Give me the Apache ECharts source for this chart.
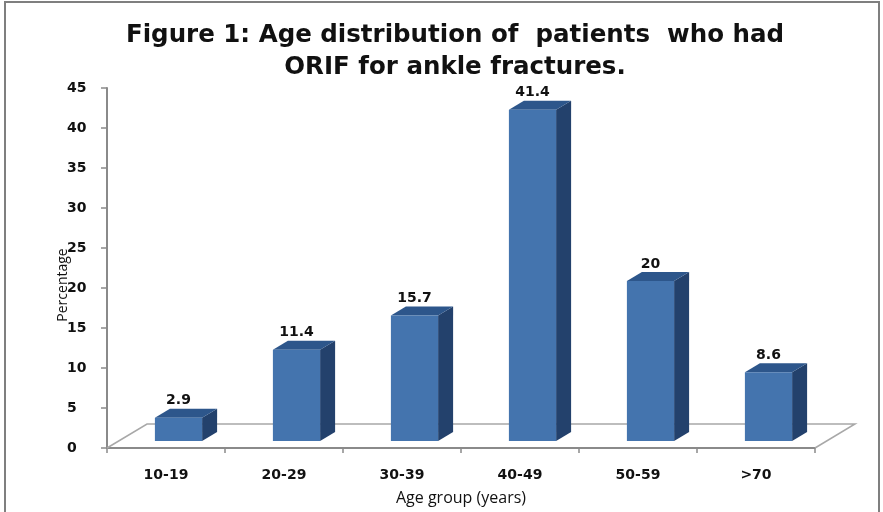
<!DOCTYPE html>
<html>
<head>
<meta charset="utf-8">
<title>Age distribution of patients who had ORIF for ankle fractures</title>
<script src="https://cdn.jsdelivr.net/npm/echarts@6/dist/echarts.min.js"></script>
<style>
  html, body { margin: 0; padding: 0; background: #fff; }
  #chart { width: 883px; height: 512px; }
</style>
</head>
<body>
<div id="chart"></div>
<script>
// data
const categories = ['10-19', '20-29', '30-39', '40-49', '50-59', '>70'];
const percentages = [2.9, 11.4, 15.7, 41.4, 20, 8.6];
const yMin = 0;
const yMax = 45;
const yStep = 5;

const chart = echarts.init(document.getElementById('chart'), null, { renderer: 'canvas' });

// colours of the 3d box faces
const frontColor = '#4474ae';
const sideColor = '#23416c';
const topColor = '#2d568b';
const axisColor = '#8a8a8a';

// depth of the fake 3d
const floorDx = 40, floorDy = 24;
const barShiftX = 12.5, barShiftY = 7;
const barDx = 15, barDy = 9;

function renderFloor(params, api) {
    const band = api.size([1, 0])[0];
    const p0 = api.coord([0, 0]);
    const left = p0[0] - band / 2;
    const right = left + band * categories.length;
    const y = p0[1];
    return {
        type: 'polyline',
        shape: {
            points: [[left, y], [left + floorDx, y - floorDy], [right + floorDx, y - floorDy], [right, y]]
        },
        style: { stroke: '#a8a8a8', lineWidth: 1.5, fill: null }
    };
}

function renderBar(params, api) {
    const idx = api.value(0);
    const v = api.value(1);
    const band = api.size([1, 0])[0];
    const base = api.coord([idx, 0]);
    const top = api.coord([idx, v]);
    const w = band * 0.4;
    const x0 = base[0] - w / 2 + barShiftX;
    const x1 = x0 + w;
    const yb = base[1] - barShiftY;
    const yt = top[1] - barShiftY;
    return {
        type: 'group',
        children: [
            {
                type: 'polygon',
                shape: { points: [[x1, yt], [x1 + barDx, yt - barDy], [x1 + barDx, yb - barDy], [x1, yb]] },
                style: { fill: sideColor }
            },
            {
                type: 'polygon',
                shape: { points: [[x0, yt], [x0 + barDx, yt - barDy], [x1 + barDx, yt - barDy], [x1, yt]] },
                style: { fill: topColor }
            },
            {
                type: 'rect',
                shape: { x: x0, y: yt, width: w, height: yb - yt },
                style: { fill: frontColor }
            },
            {
                type: 'text',
                style: {
                    text: String(v),
                    x: (x0 + x1) / 2,
                    y: yt - barDy - 1,
                    align: 'center',
                    verticalAlign: 'bottom',
                    fontFamily: 'DejaVu Sans',
                    fontWeight: 'bold',
                    fontSize: 14,
                    fill: '#111'
                }
            }
        ]
    };
}

const option = {
    backgroundColor: '#fff',
    animation: false,
    title: {
        text: 'Figure 1: Age distribution of  patients  who had\nORIF for ankle fractures.',
        left: 450,
        textAlign: 'center',
        top: 15,
        textStyle: {
            fontFamily: 'DejaVu Sans',
            fontWeight: 'bold',
            fontSize: 24.5,
            lineHeight: 32,
            color: '#111'
        }
    },
    grid: { left: 107, right: 68, top: 88, bottom: 64 },
    xAxis: {
        type: 'category',
        data: categories,
        name: 'Age group (years)',
        nameLocation: 'middle',
        nameGap: 42,
        nameTextStyle: { fontFamily: 'Open Sans', fontSize: 16, color: '#111' },
        axisLine: { lineStyle: { color: axisColor, width: 2 } },
        axisTick: { show: true, length: 5, lineStyle: { color: axisColor, width: 1.5 } },
        axisLabel: {
            margin: 20,
            fontFamily: 'DejaVu Sans',
            fontWeight: 'bold',
            fontSize: 14,
            color: '#111'
        },
        splitLine: { show: false }
    },
    yAxis: {
        type: 'value',
        min: yMin,
        max: yMax,
        interval: yStep,
        name: 'Percentage',
        nameLocation: 'middle',
        nameRotate: 90,
        nameGap: 37,
        nameMoveOverlap: false,
        nameTextStyle: { fontFamily: 'Open Sans', fontSize: 14, color: '#111', padding: [0, 34, 0, 0] },
        axisLine: { show: true, lineStyle: { color: axisColor, width: 2 } },
        axisTick: { show: true, length: 6, lineStyle: { color: axisColor, width: 1.5 } },
        axisLabel: {
            align: 'left',
            margin: 40,
            fontFamily: 'DejaVu Sans',
            fontWeight: 'bold',
            fontSize: 14,
            color: '#111'
        },
        splitLine: { show: false }
    },
    graphic: [
        {
            type: 'polyline',
            shape: { points: [[5, 520], [5, 2], [879, 2], [879, 520]] },
            style: { stroke: '#7f7f7f', lineWidth: 2, fill: null },
            silent: true
        }
    ],
    series: [
        {
            type: 'custom',
            z: 1,
            renderItem: renderFloor,
            data: [[0, 0]],
            encode: { x: 0, y: 1 }
        },
        {
            type: 'custom',
            z: 2,
            renderItem: renderBar,
            data: categories.map((c, i) => [i, percentages[i]]),
            encode: { x: 0, y: 1 }
        }
    ]
};

chart.setOption(option);
window.addEventListener('resize', function() {
    chart.resize();
});
</script>
</body>
</html>
